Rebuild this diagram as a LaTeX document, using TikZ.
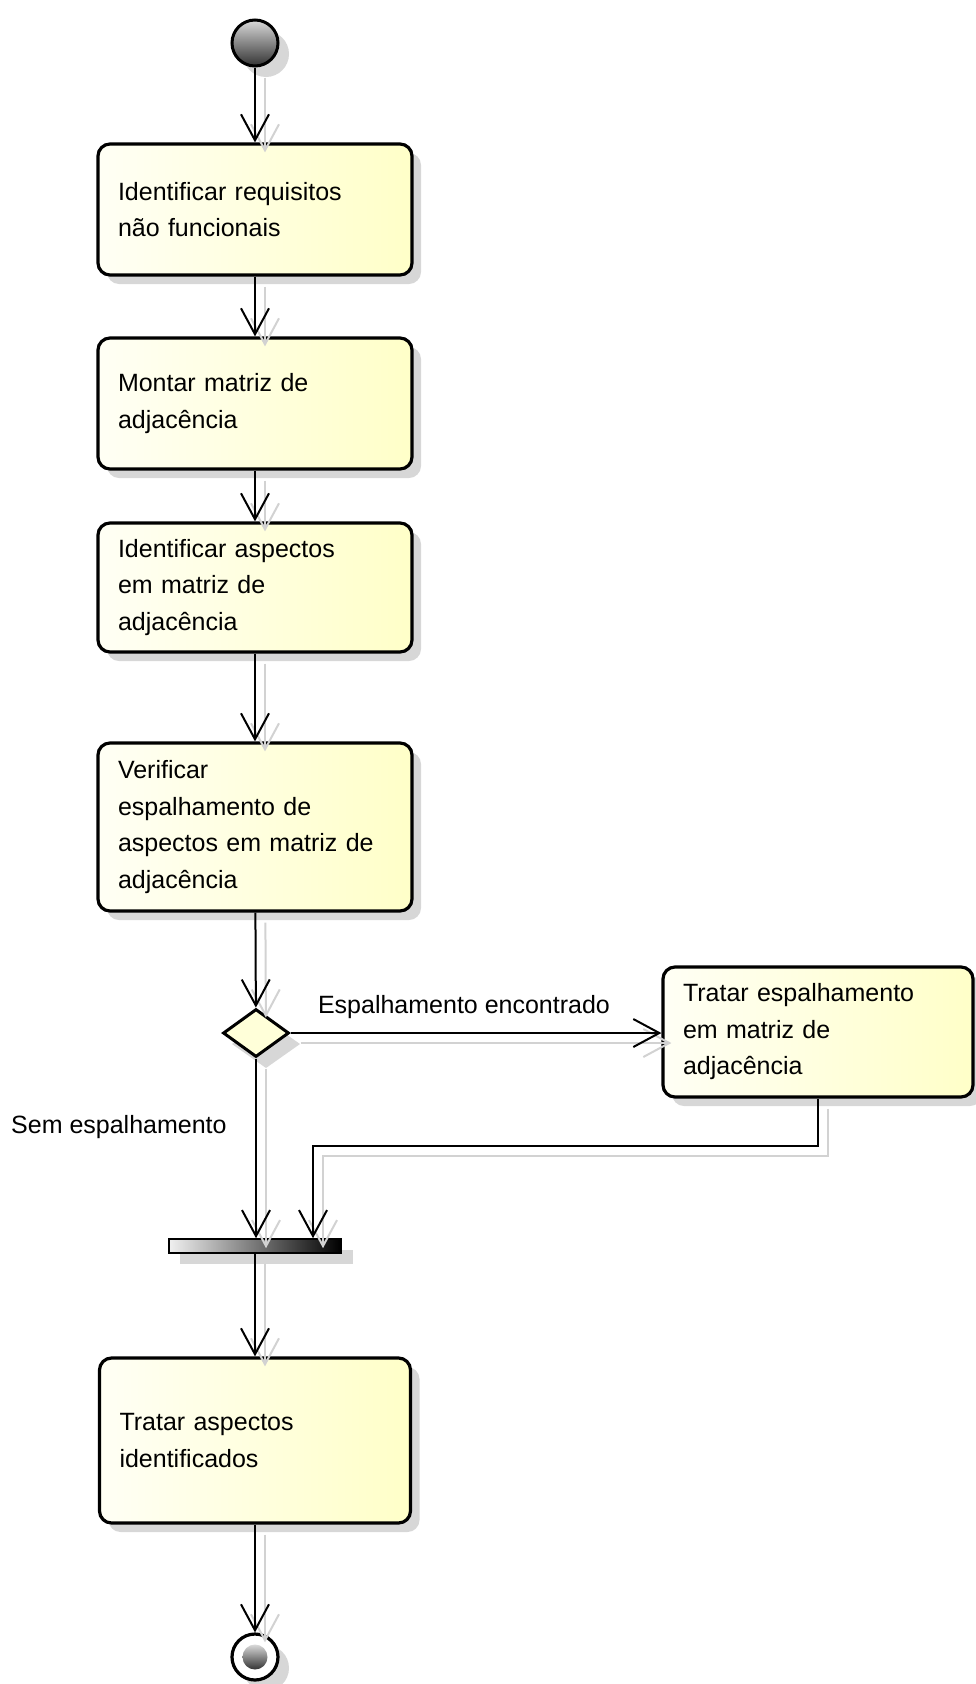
\documentclass[tikz,border=0pt]{standalone}
\usepackage{fontspec}
\setmainfont{Liberation Sans}
\usetikzlibrary{arrows.meta,shapes.geometric,shadows,calc}

\definecolor{boxlight}{RGB}{255,255,245}
\definecolor{boxyellow}{RGB}{255,255,200}
\definecolor{shadowgray}{RGB}{215,215,215}
\definecolor{linkshadow}{RGB}{210,210,210}

\tikzset{
  activity/.style={draw, line width=3.2pt, rounded corners=12pt,
    left color=boxlight, right color=boxyellow,
    minimum width=314pt, text width=274pt, inner xsep=20pt, align=left,
    font=\fontsize{25}{36.5}\selectfont,
    drop shadow={shadow xshift=9pt, shadow yshift=-9pt, fill=shadowgray, opacity=1}},
  flow/.style={line width=2pt, -{Straight Barb[length=26pt,width=28pt,line width=2pt]}},
  flowshadow/.style={flow, draw=linkshadow, transform canvas={xshift=10pt,yshift=-10pt}},
  lbl/.style={font=\fontsize{25}{30}\selectfont, inner sep=0pt},
}

\begin{document}
\begin{tikzpicture}[x=1pt, y=-1pt]
\useasboundingbox (0,0) rectangle (976,1684);

% initial node
\fill[shadowgray] (266,54) circle (23);
\node[circle, draw, line width=3pt, minimum size=46pt, inner sep=0pt,
      top color=gray!30, bottom color=black!80] (start) at (255,43) {};

% actions
\node[activity, minimum height=131pt] (b1) at (255,209.5)
  {Identificar requisitos\\não funcionais};
\node[activity, minimum height=131pt] (b2) at (255,403.5)
  {Montar matriz de\\adjacência};
\node[activity, minimum height=129pt] (b3) at (255,587.5)
  {Identificar aspectos\\em matriz de\\adjacência};
\node[activity, minimum height=168pt] (b4) at (255,827)
  {Verificar\\espalhamento de\\aspectos em matriz de\\adjacência};

% decision
\fill[shadowgray] (266,1020) -- (300,1044) -- (266,1068) -- (232,1044) -- cycle;
\node[diamond, draw, line width=3pt, fill=boxyellow!70!white, minimum width=66pt,
      minimum height=48pt, inner sep=0pt] (dec) at (256,1033) {};

\node[activity, minimum width=310pt, text width=270pt, minimum height=130pt] (b5) at (818,1032)
  {Tratar espalhamento\\em matriz de\\adjacência};

% join bar
\fill[shadowgray] (180,1250) rectangle (353,1264);
\node[rectangle, draw, line width=1.6pt, minimum width=172pt, minimum height=14pt,
      inner sep=0pt, left color=gray!12, right color=black] (bar) at (255,1246) {};

\node[activity, minimum width=311pt, text width=271pt, minimum height=165pt] (b6) at (255,1440.5)
  {Tratar aspectos\\identificados};

% final node
\fill[shadowgray] (266,1668) circle (23);
\node[circle, draw, line width=3.2pt, fill=white, minimum size=46pt, inner sep=0pt] (stop) at (255,1657) {};
\node[circle, minimum size=25pt, inner sep=0pt, top color=gray!30, bottom color=black!80] (stopcore) at (255,1657) {};

% routing point of the merge path
\coordinate (j) at (313,1146);

% connector shadows
\draw[flowshadow] (start) -- (b1);
\draw[flowshadow] (b1) -- (b2);
\draw[flowshadow] (b2) -- (b3);
\draw[flowshadow] (b3) -- (b4);
\draw[flowshadow] (b4) -- (dec);
\draw[flowshadow] (dec.east) -- (b5.west |- dec.east);
\draw[flowshadow] (dec.south) -- (bar.north -| dec.south);
\draw[flowshadow] (b5.south) |- (j) -- (j |- bar.north);
\draw[flowshadow] (bar) -- (b6);
\draw[flowshadow] (b6) -- (stop);

% connectors
\draw[flow] (start) -- (b1);
\draw[flow] (b1) -- (b2);
\draw[flow] (b2) -- (b3);
\draw[flow] (b3) -- (b4);
\draw[flow] (b4) -- (dec);
\draw[flow] (dec.east) -- (b5.west |- dec.east);
\draw[flow] (dec.south) -- (bar.north -| dec.south);
\draw[flow] (b5.south) |- (j) -- (j |- bar.north);
\draw[flow] (bar) -- (b6);
\draw[flow] (b6) -- (stop);

% guard labels
\node[lbl] (gyes) at (464,1007) {Espalhamento encontrado};
\node[lbl, anchor=west] (gno) at (11,1127) {Sem espalhamento};
\end{tikzpicture}
\end{document}
